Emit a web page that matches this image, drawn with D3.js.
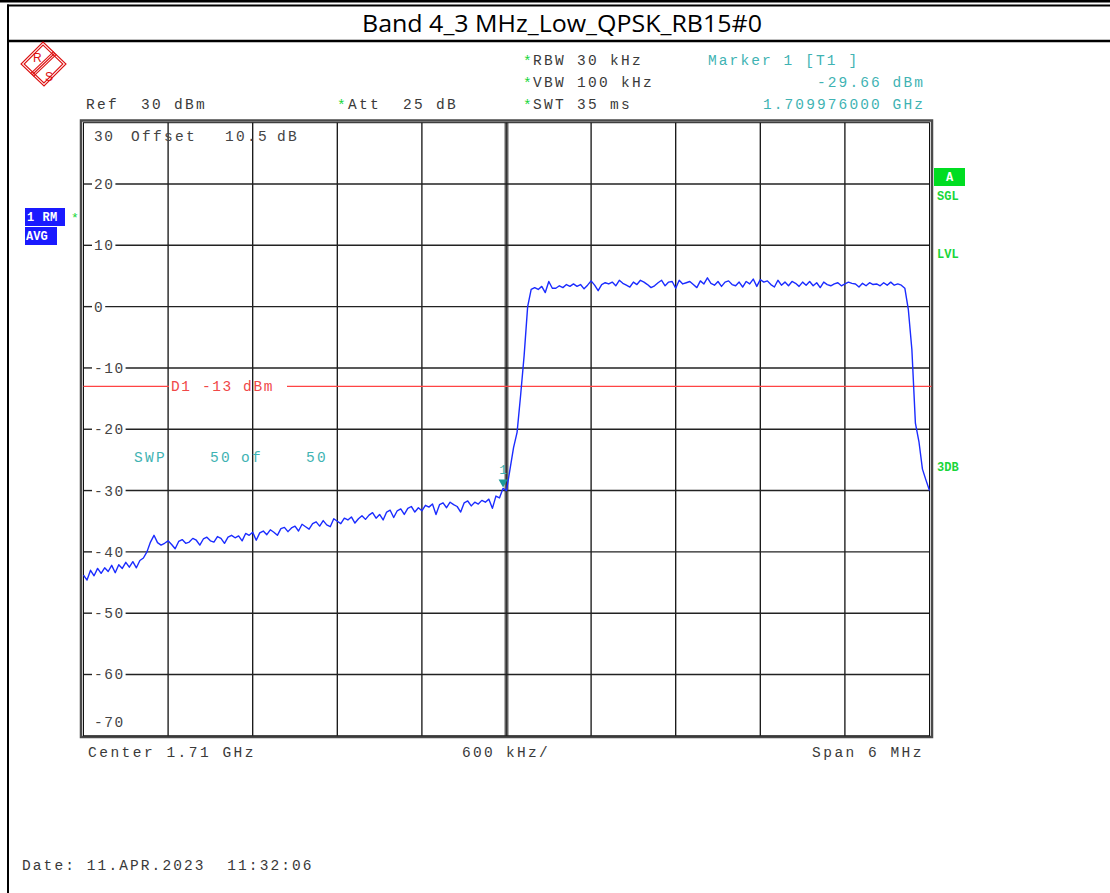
<!DOCTYPE html>
<html><head><meta charset="utf-8">
<script src="https://cdn.jsdelivr.net/npm/d3@7"></script>
<style>body{margin:0;background:#fff} svg{display:block} text{white-space:pre}</style>
</head><body><svg id="c" width="1110" height="893"></svg>
<script>
// ---------------- DATA ----------------
const chartTitle = "Band 4_3 MHz_Low_QPSK_RB15#0";
const startFreqGHz = 1.707;
const stopFreqGHz = 1.713;
const stepGHz = 0.000025;
// trace levels (dBm), one every 25 kHz from 1.707 GHz
const traceLevels = [
 -43.8,-44.6,-43.0,-43.9,-42.7,-43.5,-42.6,-43.2,-42.2,-43.4,
 -42.1,-42.7,-41.7,-42.5,-41.6,-42.6,-41.4,-41.0,-40.0,-38.4,
 -37.3,-38.5,-38.9,-38.6,-38.2,-38.8,-39.5,-38.3,-38.0,-38.6,
 -38.4,-37.8,-38.1,-38.9,-37.9,-37.6,-38.2,-38.4,-37.5,-37.8,
 -38.6,-37.6,-37.3,-37.7,-37.4,-38.2,-37.0,-37.3,-36.8,-38.1,
 -36.9,-36.6,-37.2,-36.4,-36.8,-37.3,-36.2,-36.0,-36.7,-36.1,
 -35.8,-36.6,-35.5,-35.9,-36.3,-35.4,-35.1,-35.8,-34.9,-35.6,
 -35.9,-34.6,-35.0,-35.4,-34.5,-34.8,-34.3,-35.3,-34.6,-34.1,
 -34.7,-34.0,-33.6,-34.5,-33.9,-34.8,-33.5,-33.2,-34.4,-33.3,
 -33.0,-33.9,-32.9,-32.6,-33.5,-32.8,-33.3,-32.4,-32.7,-32.2,
 -33.9,-32.3,-32.0,-32.8,-31.9,-32.3,-32.6,-33.5,-32.0,-31.7,
 -32.5,-31.9,-32.2,-31.6,-31.9,-31.4,-32.9,-30.9,-31.2,-29.66,
 -30.0,-26.5,-23.0,-20.5,-14.5,-8.0,0.0,2.8,3.1,2.8,
 3.3,2.3,4.1,3.0,3.0,3.4,3.1,3.6,3.3,3.7,
 3.3,3.6,2.9,3.5,4.2,3.5,2.6,3.6,3.9,3.7,
 4.0,3.4,4.3,3.8,3.5,3.2,4.0,3.6,4.3,4.0,
 3.6,3.1,3.4,3.9,4.3,3.4,4.0,4.1,3.0,4.3,
 3.7,3.9,4.1,3.6,3.1,4.2,3.7,4.7,3.8,3.5,
 4.1,3.3,4.0,4.2,3.6,3.4,4.0,3.2,4.1,3.7,
 4.5,3.3,4.4,4.0,4.2,3.6,3.2,4.3,3.5,4.0,
 3.4,4.1,3.8,3.3,4.0,3.5,4.1,3.4,3.9,3.1,
 4.0,3.6,3.4,3.7,3.9,3.4,3.7,4.0,3.8,3.7,
 3.2,3.8,3.4,3.9,3.6,3.7,3.4,3.9,3.5,4.0,
 3.5,3.7,3.5,3.0,-0.5,-7.0,-19.0,-22.0,-26.5,-28.3,
 -30.0
];
const refLevel = 30;
const bottomLevel = -70;
const yTickValues = [20,10,0,-10,-20,-30,-40,-50,-60];
const xDivisions = 10;
const limitLevel = -13;
const markerFreqGHz = 1.709976;
const markerLevel = -29.66;

// ---------------- LAYOUT ----------------
const svg = d3.select("#c");
const X0 = 83.5, X1 = 929.5, Y0 = 122.7, Y1 = 735.8;
const x = d3.scaleLinear().domain([startFreqGHz, stopFreqGHz]).range([X0, X1]);
const y = d3.scaleLinear().domain([bottomLevel, refLevel]).range([Y1, Y0]);
const MONO = "'Liberation Mono','DejaVu Sans Mono',monospace";
const GREY = "#3a3a3a", TEAL = "#3fb3b3", GREEN = "#19d63a", BLUE = "#1a1aff";

function txt(xp, yp, s, o = {}) {
  return svg.append("text").attr("x", xp).attr("y", yp).text(s)
    .attr("xml:space", "preserve")
    .attr("font-family", o.family || MONO)
    .attr("font-size", o.size || 14.5)
    .attr("letter-spacing", o.ls !== undefined ? o.ls : 2.3)
    .attr("font-weight", o.weight || "normal")
    .attr("text-anchor", o.anchor || "start")
    .attr("fill", o.fill || GREY);
}

// outer frame
svg.append("rect").attr("x", 0).attr("y", 0).attr("width", 1110).attr("height", 2.5).attr("fill", "#000");
svg.append("line").attr("x1", 7).attr("x2", 1110).attr("y1", 5.5).attr("y2", 5.5).attr("stroke", "#000").attr("stroke-width", 2);
svg.append("line").attr("x1", 8).attr("x2", 8).attr("y1", 4.5).attr("y2", 893).attr("stroke", "#000").attr("stroke-width", 2);
svg.append("line").attr("x1", 7).attr("x2", 1110).attr("y1", 41).attr("y2", 41).attr("stroke", "#000").attr("stroke-width", 2.5);

// title
svg.append("text").attr("x", 562).attr("y", 32).attr("text-anchor", "middle")
  .attr("font-family", "'Open Sans','Liberation Sans',sans-serif").attr("font-size", 24)
  .attr("textLength", 400).attr("lengthAdjust", "spacingAndGlyphs")
  .attr("fill", "#000").text(chartTitle);

// R&S logo
const logo = svg.append("g").attr("fill", "none").attr("stroke", "#d11").attr("stroke-width", 1.1);
const lp = [[43,42],[66,64],[44,86],[21,64]];
logo.append("polygon").attr("points", lp.map(p => p.join(",")).join(" "));
const lc = [43.5, 64];
logo.append("polygon").attr("points", lp.map(p => [lc[0] + (p[0]-lc[0])*0.86, lc[1] + (p[1]-lc[1])*0.86].join(",")).join(" "));
[-2, 0, 2].forEach(o => {
  logo.append("line").attr("x1", 32 + o*0.7).attr("y1", 75 + o*0.7).attr("x2", 55 + o*0.7).attr("y2", 53 + o*0.7);
});
svg.append("text").attr("x", 33).attr("y", 62).text("R").attr("font-family", "'Liberation Sans',sans-serif").attr("font-size", 12).attr("fill", "#d11");
svg.append("text").attr("x", 45).attr("y", 81).text("S").attr("font-family", "'Liberation Sans',sans-serif").attr("font-size", 12).attr("fill", "#d11");

// header settings
txt(523, 66, "*", {fill: GREEN, ls: 0});
txt(533, 65, "RBW 30 kHz");
txt(523, 88, "*", {fill: GREEN, ls: 0});
txt(533, 87, "VBW 100 kHz");
txt(523, 110, "*", {fill: GREEN, ls: 0});
txt(533, 109, "SWT 35 ms");
txt(86, 109, "Ref  30 dBm");
txt(337, 110, "*", {fill: GREEN, ls: 0});
txt(348, 109, "Att  25 dB");
txt(708, 65, "Marker 1 [T1 ]", {fill: TEAL, ls: 2.1});
txt(925, 87, "-29.66 dBm", {fill: TEAL, anchor: "end", ls: 2.1});
txt(925, 109, "1.709976000 GHz", {fill: TEAL, anchor: "end", ls: 2.1});

// grid
const colW = (X1 - X0) / xDivisions;
const grid = svg.append("g");
for (let k = 1; k < xDivisions; k++) {
  const gx = X0 + k * colW;
  if (k === xDivisions / 2) {
    grid.append("line").attr("x1", gx).attr("x2", gx).attr("y1", Y0).attr("y2", Y1).attr("stroke", "#666").attr("stroke-width", 4);
    grid.append("line").attr("x1", gx).attr("x2", gx).attr("y1", Y0).attr("y2", Y1).attr("stroke", "#333").attr("stroke-width", 1.2);
  } else {
    grid.append("line").attr("x1", gx).attr("x2", gx).attr("y1", Y0).attr("y2", Y1).attr("stroke", "#111").attr("stroke-width", 1.3);
  }
}
yTickValues.forEach(v => {
  const gy = y(v);
  const lab = txt(94, gy + 5, v < 0 ? "-" + Math.abs(v) : String(v), {fill: "#444", ls: 1.5});
  const w = lab.node().getComputedTextLength();
  grid.append("line").attr("x1", X0).attr("x2", 92).attr("y1", gy).attr("y2", gy).attr("stroke", "#222").attr("stroke-width", 1.4);
  grid.append("line").attr("x1", 94 + w + 1).attr("x2", X1).attr("y1", gy).attr("y2", gy).attr("stroke", "#222").attr("stroke-width", 1.4);
});
txt(94, 141, String(refLevel), {fill: "#444", ls: 1.5});
txt(131, 141, "Offset", {fill: "#444"});
txt(225, 141, "10.5", {fill: "#444"});
txt(277, 141, "dB", {fill: "#444"});
txt(94, 727, String(bottomLevel), {fill: "#444", ls: 1.5});

// plot frame (double)
svg.append("rect").attr("x", 81).attr("y", 120.5).attr("width", 851).attr("height", 616.5)
  .attr("fill", "none").attr("stroke", "#4a4a4a").attr("stroke-width", 2.5);
svg.append("rect").attr("x", X0).attr("y", Y0).attr("width", X1 - X0).attr("height", Y1 - Y0)
  .attr("fill", "none").attr("stroke", "#111").attr("stroke-width", 1);

// limit line D1
const ly = y(limitLevel);
svg.append("line").attr("x1", X0).attr("x2", 169).attr("y1", ly).attr("y2", ly).attr("stroke", "#f44").attr("stroke-width", 1.4);
svg.append("line").attr("x1", 287).attr("x2", X1 + 2).attr("y1", ly).attr("y2", ly).attr("stroke", "#f44").attr("stroke-width", 1.4);
txt(171, ly + 5, "D1 -13 dBm", {fill: "#f04848", ls: 1.6});

// sweep text
txt(134, 462, "SWP", {fill: TEAL});
txt(210, 462, "50", {fill: TEAL});
txt(241, 462, "of", {fill: TEAL});
txt(306, 462, "50", {fill: TEAL});

// trace
const line = d3.line().x((d, i) => x(startFreqGHz + i * stepGHz)).y(d => y(d));
svg.append("path").datum(traceLevels).attr("d", line).attr("fill", "none")
  .attr("stroke", "#1b2cff").attr("stroke-width", 1.4).attr("stroke-linejoin", "round");

// marker
const mx = x(markerFreqGHz), my = y(markerLevel);
svg.append("path").attr("d", `M${mx-4.5},${my-9} L${mx+4.5},${my-9} L${mx},${my-1} Z`).attr("fill", "#1a9a9a");
txt(mx, my - 14, "1", {fill: TEAL, ls: 0, anchor: "middle", size: 13});

// left status boxes
svg.append("rect").attr("x", 25).attr("y", 208).attr("width", 40).attr("height", 18).attr("fill", BLUE);
txt(27, 221, "1 RM", {fill: "#fff", weight: "bold", size: 12, ls: 0.5});
txt(71, 222, "*", {fill: GREEN, ls: 0, size: 13});
svg.append("rect").attr("x", 25).attr("y", 227).attr("width", 32).attr("height", 18).attr("fill", BLUE);
txt(26, 240, "AVG", {fill: "#fff", weight: "bold", size: 12, ls: 0});

// right status
svg.append("rect").attr("x", 934).attr("y", 168).attr("width", 31).attr("height", 18).attr("fill", "#00dd22");
txt(949.5, 181, "A", {fill: "#fff", weight: "bold", size: 12, ls: 0, anchor: "middle"});
txt(937, 200, "SGL", {fill: GREEN, weight: "bold", size: 12, ls: 0});
txt(937, 258, "LVL", {fill: GREEN, weight: "bold", size: 12, ls: 0});
txt(937, 471, "3DB", {fill: GREEN, weight: "bold", size: 12, ls: 0});

// footer
txt(88, 757, "Center 1.71 GHz", {ls: 2.5});
txt(462, 757, "600 kHz/");
txt(924, 757, "Span 6 MHz", {anchor: "end", ls: 2.5});
txt(22, 870, "Date: 11.APR.2023  11:32:06", {ls: 2.1});
</script></body></html>
